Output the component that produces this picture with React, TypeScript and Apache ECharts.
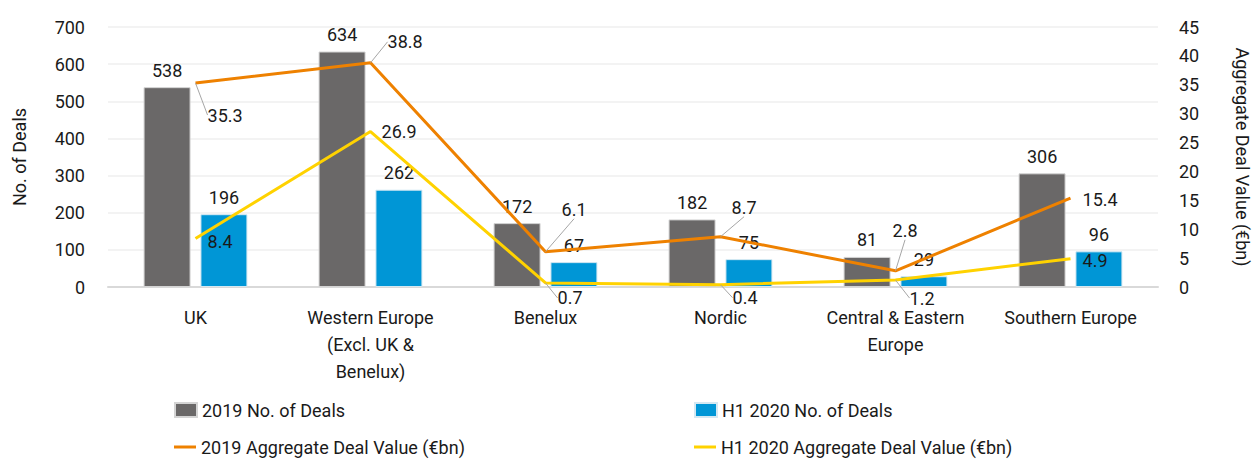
import React, { useEffect, useRef } from "react";
import * as echarts from "echarts";

const categories = [
  "UK",
  "Western Europe\n(Excl. UK &\nBenelux)",
  "Benelux",
  "Nordic",
  "Central & Eastern\nEurope",
  "Southern Europe",
];
const deals2019 = [538, 634, 172, 182, 81, 306];
const dealsH12020 = [196, 262, 67, 75, 29, 96];
const value2019 = [35.3, 38.8, 6.1, 8.7, 2.8, 15.4];
const valueH12020 = [8.4, 26.9, 0.7, 0.4, 1.2, 4.9];

// label displacement (dx, dy) relative to a "right" label, and whether a leader line is drawn
const value2019LabelShift = [
  [7, 32, true],
  [12, -21, true],
  [11, -42, true],
  [6, -29, true],
  [-8, -40, true],
  [7, 1, false],
];
const valueH12020LabelShift = [
  [7, 3, false],
  [6, 0, false],
  [7, 15, true],
  [7, 13, true],
  [9, 18, true],
  [7, 2, false],
];

const FONT = "Roboto";
const FS = 18;
const TXT = "#1a1a1a";

export default function App() {
  const ref = useRef<HTMLDivElement>(null);
  useEffect(() => {
    document.body.style.margin = "0";
    if (!ref.current) return;
    const chart = echarts.init(ref.current, null, { renderer: "svg" });
    const lineData = (vals: number[], shifts: any[]) =>
      vals.map((v, i) => ({
        value: v,
        labelLine: { show: shifts[i][2] },
      }));
    const legendText = { fontFamily: FONT, fontSize: FS, color: TXT };
    chart.setOption({
      animation: false,
      textStyle: { fontFamily: FONT, color: TXT },
      grid: { left: 108, right: 98, top: 27, bottom: 172, containLabel: false },
      legend: [
        {
          data: [{ name: "2019 No. of Deals", icon: "rect" }],
          left: 174, top: 401, padding: 0, itemWidth: 22, itemHeight: 14,
          textStyle: legendText,
        },
        {
          data: [{ name: "H1 2020 No. of Deals", icon: "rect" }],
          left: 694, top: 401, padding: 0, itemWidth: 22, itemHeight: 14,
          textStyle: legendText,
        },
        {
          data: [{ name: "2019 Aggregate Deal Value (€bn)", icon: "rect", itemStyle: { color: "#ee8100", opacity: 1 } }],
          left: 174, top: 438, padding: 0, itemWidth: 22, itemHeight: 3,
          textStyle: legendText,
        },
        {
          data: [{ name: "H1 2020 Aggregate Deal Value (€bn)", icon: "rect", itemStyle: { color: "#ffd200", opacity: 1 } }],
          left: 694, top: 438, padding: 0, itemWidth: 22, itemHeight: 3,
          textStyle: legendText,
        },
      ],
      xAxis: {
        type: "category",
        data: categories,
        axisTick: { show: false },
        axisLine: { lineStyle: { color: "#d9d9d9", width: 2 } },
        axisLabel: {
          fontFamily: FONT, fontSize: FS, color: TXT, lineHeight: 27,
          margin: 17, interval: 0,
        },
      },
      yAxis: [
        {
          type: "value", min: 0, max: 700, interval: 100,
          name: "No. of Deals", nameLocation: "middle", nameGap: 80, nameRotate: 90,
          nameTextStyle: { fontFamily: FONT, fontSize: FS, color: TXT },
          axisLabel: { fontFamily: FONT, fontSize: FS, color: TXT, margin: 23 },
          splitLine: { lineStyle: { color: "#efefef", width: 1.5 } },
          axisLine: { show: false }, axisTick: { show: false },
        },
        {
          type: "value", min: 0, max: 45, interval: 5,
          name: "Aggregate Deal Value (€bn)", nameLocation: "middle", nameGap: 75, nameRotate: -90,
          nameTextStyle: { fontFamily: FONT, fontSize: FS, color: TXT },
          axisLabel: { fontFamily: FONT, fontSize: FS, color: TXT, margin: 21 },
          splitLine: { show: false },
          axisLine: { show: false }, axisTick: { show: false },
        },
      ],
      series: [
        {
          name: "2019 No. of Deals", type: "bar", data: deals2019,
          barWidth: 47, barGap: "21%",
          itemStyle: { color: "#6a6868", borderColor: "#d4d4d4", borderWidth: 1 },
          label: { show: true, position: "top", distance: 8, fontFamily: FONT, fontSize: FS, color: TXT },
        },
        {
          name: "H1 2020 No. of Deals", type: "bar", data: dealsH12020,
          barWidth: 47, barGap: "21%",
          itemStyle: { color: "#0096d6", borderColor: "#d4e8f2", borderWidth: 1 },
          label: { show: true, position: "top", distance: 8, fontFamily: FONT, fontSize: FS, color: TXT },
        },
        {
          name: "2019 Aggregate Deal Value (€bn)", type: "line", yAxisIndex: 1,
          data: lineData(value2019, value2019LabelShift),
          symbol: "circle", symbolSize: 0.1, showSymbol: true,
          lineStyle: { color: "#ee8100", width: 3 },
          itemStyle: { color: "#ee8100" },
          label: { show: true, position: "right", distance: 5, fontFamily: FONT, fontSize: FS, color: TXT },
          labelLine: { show: true, lineStyle: { color: "#a6a6a6", width: 1 } },
          labelLayout: (p: any) => ({ dx: value2019LabelShift[p.dataIndex][0], dy: value2019LabelShift[p.dataIndex][1] }),
          z: 5,
        },
        {
          name: "H1 2020 Aggregate Deal Value (€bn)", type: "line", yAxisIndex: 1,
          data: lineData(valueH12020, valueH12020LabelShift),
          symbol: "circle", symbolSize: 0.1, showSymbol: true,
          lineStyle: { color: "#ffd200", width: 3 },
          itemStyle: { color: "#ffd200" },
          label: { show: true, position: "right", distance: 5, fontFamily: FONT, fontSize: FS, color: TXT },
          labelLine: { show: true, lineStyle: { color: "#a6a6a6", width: 1 } },
          labelLayout: (p: any) => ({ dx: valueH12020LabelShift[p.dataIndex][0], dy: valueH12020LabelShift[p.dataIndex][1] }),
          z: 5,
        },
      ],
    });
    return () => chart.dispose();
  }, []);
  return <div ref={ref} style={{ width: 1259, height: 459 }} />;
}
